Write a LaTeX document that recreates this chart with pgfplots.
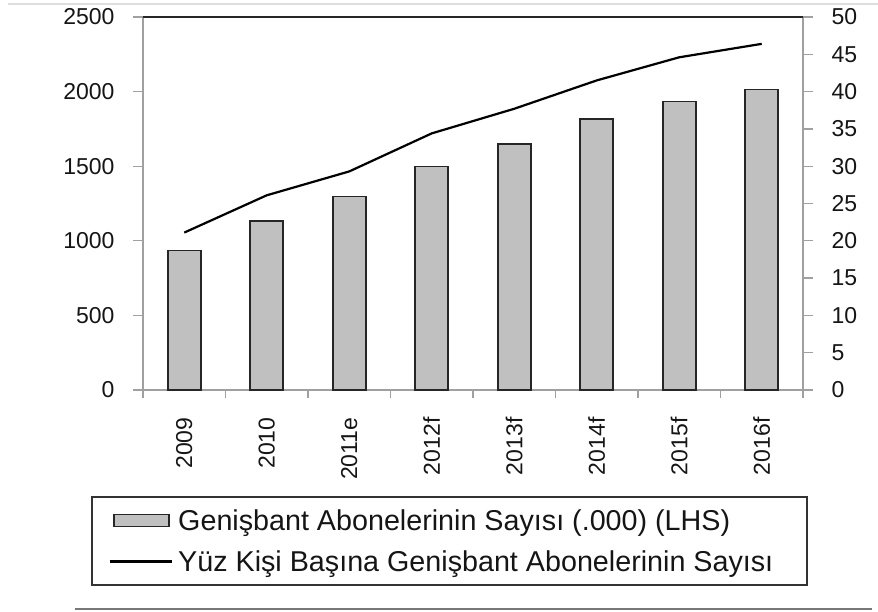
\documentclass[border=0pt]{standalone}
\usepackage{fontspec}
\setmainfont{Liberation Sans}
\usepackage{pgfplots}
\pgfplotsset{compat=1.18}
\definecolor{barfill}{HTML}{C0C0C0}
\definecolor{axgray}{HTML}{A0A0A0}
\definecolor{txt}{HTML}{151515}
\pgfplotsset{
  common/.style={
    at={(143pt,221pt)}, anchor=south west, scale only axis,
    width=660pt, height=373pt,
    xmin=-0.5, xmax=7.5,
    tick align=outside,
    major tick length=10pt,
    minor tick length=8pt,
    axis line style={axgray, line width=1.3pt},
    every tick/.style={axgray, line width=1.3pt},
    /pgf/number format/assume math mode=true,
    /pgf/number format/1000 sep={},
    ticklabel style={font=\fontsize{23}{26}\selectfont, text=txt},
    yticklabel shift=15pt,
  }
}
\begin{document}
\begin{tikzpicture}[x=1pt,y=1pt]
\useasboundingbox (0,0) rectangle (878,611);
\draw[color={rgb,255:red,222;green,222;blue,222}, line width=1.2pt] (8,607) -- (878,607);
\draw[color={rgb,255:red,120;green,120;blue,120}, line width=1.5pt] (75,2) -- (872,2);
\begin{axis}[common,
  ymin=0, ymax=2500,
  ytick={0,500,...,2500},
  xtick={0,...,7},
  xticklabels={2009,2010,2011e,2012f,2013f,2014f,2015f,2016f},
  minor xtick={-0.5,0.5,...,7.5},
  major x tick style={draw=none},
  axis y line*=left, axis x line*=bottom,
  xticklabel style={rotate=90, anchor=east},
  xticklabel shift=14pt,
  ybar, bar width=33pt,
  legend style={draw=none, fill=none, at={(rel axis cs:-0.0530,-0.405)}, anchor=west,
    font=\fontsize{28.7}{32}\selectfont, text=txt, row sep=15pt, inner sep=0pt,
    /tikz/every odd column/.append style={column sep=3pt}},
  legend cell align=left,
]
\addplot[ybar, fill=barfill, draw=black!85, line width=1.6pt,
  legend image code/.code={\draw[fill=barfill, draw=black!85, line width=1.6pt] (0pt,-6pt) rectangle (55pt,6pt);}]
  coordinates {(0,935) (1,1131) (2,1297) (3,1499) (4,1647) (5,1815) (6,1933) (7,2014)};
\addlegendentry{Genişbant Abonelerinin Sayısı (.000) (LHS)}
\addlegendimage{legend image code/.code={\draw[black, line width=3pt] (-4pt,0pt) -- (58pt,0pt);}}
\addlegendentry{Yüz Kişi Başına Genişbant Abonelerinin Sayısı}
\end{axis}
\begin{axis}[common,
  ymin=0, ymax=50,
  ytick={0,5,...,50},
  axis y line*=right, axis x line=none,
]
\addplot[black, line width=2.2pt] coordinates {(0,21.1) (1,26.1) (2,29.3) (3,34.4) (4,37.7) (5,41.5) (6,44.6) (7,46.4)};
\end{axis}
\draw[black!85, line width=1.5pt] (143,594) -- (803,594);
\draw[black!80, line width=1.5pt] (92,26) rectangle (807,114);
\end{tikzpicture}
\end{document}
